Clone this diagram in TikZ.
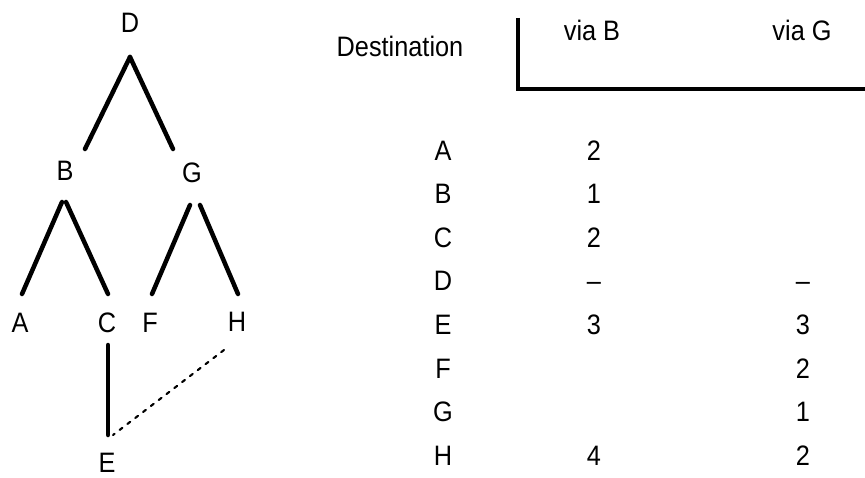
\documentclass[tikz,border=0pt]{standalone}
\usepackage{fontspec}
\setmainfont{Liberation Sans}[FakeStretch=0.9]
\begin{document}
\begin{tikzpicture}[
    x=0.025cm, y=-0.025cm,
    lbl/.style={font=\fontsize{20}{22}\selectfont, inner sep=0pt, text height=14.3pt, text depth=0pt},
    edge/.style={line width=3.2pt, line cap=round},
    link/.style={line width=1.5pt, line cap=round, dash pattern=on 2.5pt off 4.5pt},
    rule/.style={line width=2.2pt},
  ]
    \useasboundingbox (0,0) rectangle (865,478);

    % tree
    \node[lbl] (D) at (130, 22) {D};
    \node[lbl] (B) at (65, 170) {B};
    \node[lbl] (G) at (192, 172) {G};
    \node[lbl] (A) at (20, 322) {A};
    \node[lbl] (C) at (107, 322) {C};
    \node[lbl] (F) at (150, 322) {F};
    \node[lbl] (H) at (237, 321) {H};
    \node[lbl] (E) at (107, 462) {E};

    \draw[edge] ([shift={(0,35)}]D.center) -- ([shift={(20,-21)}]B.center);
    \draw[edge] ([shift={(0,35)}]D.center) -- ([shift={(-19,-23)}]G.center);
    \draw[edge] ([shift={(-3,32)}]B.center) -- ([shift={(2,-28)}]A.center);
    \draw[edge] ([shift={(1,32)}]B.center) -- ([shift={(1,-28)}]C.center);
    \draw[edge] ([shift={(-2,33)}]G.center) -- ([shift={(2,-28)}]F.center);
    \draw[edge] ([shift={(8,33)}]G.center) -- ([shift={(1,-27)}]H.center);
    \draw[edge] ([shift={(1,23)}]C.center) -- ([shift={(1,-27)}]E.center);
    \draw[link] ([shift={(-13,29)}]H.center) -- ([shift={(6,-27)}]E.center);

    % table head
    \node[lbl] (dest) at (400, 46) {Destination};
    \node[lbl] (headB) at (592, 30) {via B};
    \node[lbl] (headG) at (802, 30) {via G};
    \coordinate (bartop) at (518, 18);
    \coordinate (barend) at (865, 89);
    \draw[rule] (bartop) |- (barend);

    % table body
    \foreach \r/\d/\b/\g in {0/A/2/, 1/B/1/, 2/C/2/, 3/D/\textendash/\textendash,
        4/E/3/3, 5/F//2, 6/G//1, 7/H/4/2} {
      \node[lbl] (dst\d) at (443, 150+\r*43.6) {\d};
      \node[lbl] (vb\d) at (594, 150+\r*43.6) {\b};
      \node[lbl] (vg\d) at (803, 150+\r*43.6) {\g};
    }
  \end{tikzpicture}
\end{document}
